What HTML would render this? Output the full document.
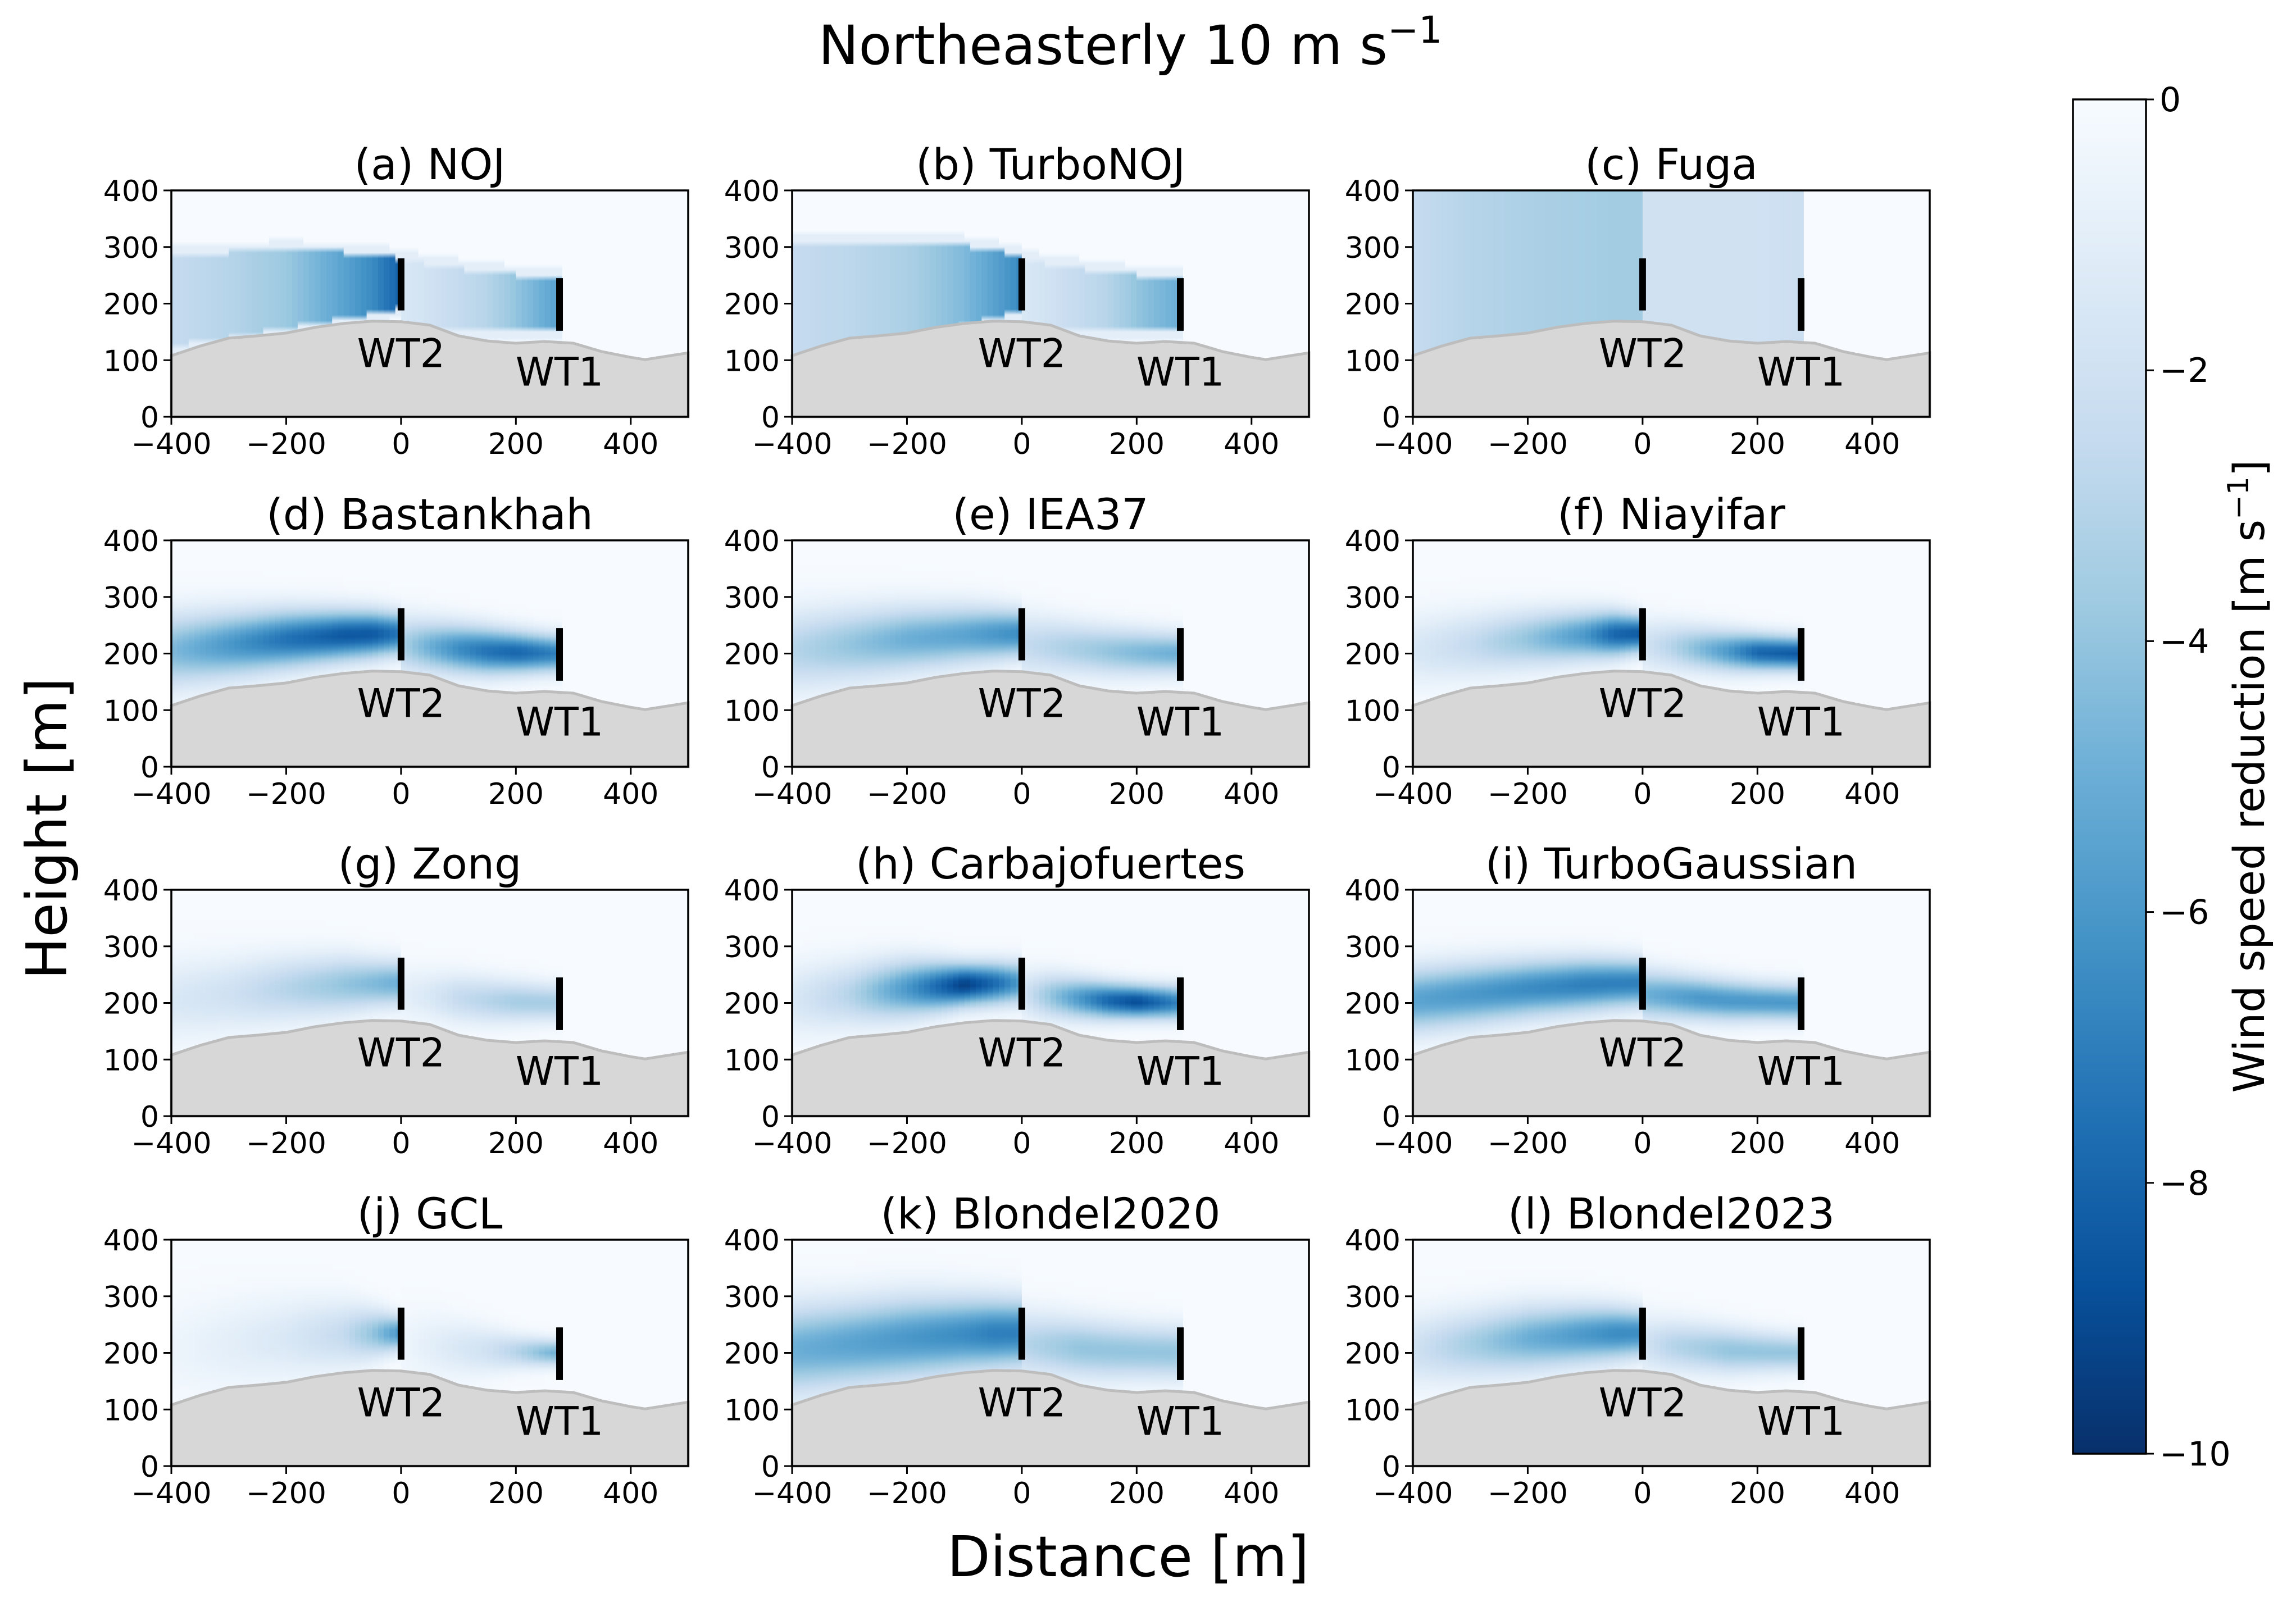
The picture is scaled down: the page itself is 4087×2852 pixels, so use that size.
<!DOCTYPE html>
<html><head><meta charset="utf-8"><style>
html,body{margin:0;padding:0;background:#fff}
svg{display:block;font-family:"DejaVu Sans","Liberation Sans",sans-serif}
</style></head><body>
<svg id="fig" width="4087" height="2852" viewBox="0 0 4087 2852" xmlns="http://www.w3.org/2000/svg">
<defs id="defs"></defs>
<rect width="4087" height="2852" fill="#fff"/>
<text x="2012" y="114" font-size="96" text-anchor="middle">Northeasterly 10 m s<tspan dy="-38" font-size="66">−1</tspan></text>
<text transform="translate(118,1475) rotate(-90)" font-size="100" text-anchor="middle">Height [m]</text>
<text x="2008" y="2806" font-size="100" text-anchor="middle">Distance [m]</text>
<g id="panels"></g>
<g id="cbar"></g>
</svg>
<script>
const NS="http://www.w3.org/2000/svg";
const modelNames=["(a) NOJ","(b) TurboNOJ","(c) Fuga","(d) Bastankhah","(e) IEA37","(f) Niayifar","(g) Zong","(h) Carbajofuertes","(i) TurboGaussian","(j) GCL","(k) Blondel2020","(l) Blondel2023"];
const modelShapes=["tophat","tophat","fuga","gauss","gauss","gauss","gauss","gauss","gauss","gauss","gauss","gauss"];
const wakeX=[-400,-300,-200,-100,-50,-5,5,50,100,150,200,270];
const wakeCenter=[205,215,225,232,234,235,215,212,208,204,202,200];
const defNOJ=[2.5,3,3.8,5.5,6.5,8,1.5,2,2.5,3,4,5.5];
const defTurboNOJ=[2.5,2.8,3.3,4.5,5.5,6.5,1.5,2,2.5,3,4,5];
const defFuga=[2.5,3,3.3,3.5,3.6,3.6,2,2,2,2,2,2.2];
const defBastankhah=[4.5,6,7.5,8.5,8.5,7.5,3.5,5,6.5,7.5,8,7];
const defIEA37=[3,4,5,5.5,6,6.5,2.5,3,3.5,4,4.5,5];
const defNiayifar=[1.5,2.5,4,6,8,8.5,2,3,4.5,6,8,8.5];
const defZong=[1.5,2,3,4,4.5,5,1,1.5,2.5,3,3.5,3.5];
const defCarbajo=[1.5,3,6,9.5,8,6,2,4,6,8,9,7];
const defTurboGauss=[5.5,6,6.5,7,7,7,5,5.5,6,6,6,6];
const defGCL=[0.5,1,1.5,2.5,4,6,0.5,1,1.5,2,3,5];
const defBlondel2020=[5,5.5,6,6.5,7,7,3,3.5,4,4,4,4];
const defBlondel2023=[2,3.5,5,6,6.5,6.5,2,3,3.5,4,4,4];
const widNOJ=[80,75,68,58,52,45,60,57,54,51,48,45];
const widTurboNOJ=[100,95,85,70,60,48,60,57,54,51,48,45];
const widFuga=[400,400,400,400,400,400,400,400,400,400,400,400];
const widBastankhah=[45,40,35,30,28,25,35,32,30,28,25,22];
const widIEA37=[50,45,40,35,32,28,38,35,32,30,28,25];
const widNiayifar=[45,40,35,30,27,22,33,30,27,25,22,20];
const widZong=[50,45,40,35,30,27,35,32,30,28,25,22];
const widCarbajo=[45,40,35,25,25,25,30,28,25,22,20,20];
const widTurboGauss=[40,38,35,32,30,28,30,28,26,25,23,22];
const widGCL=[60,55,50,40,30,20,45,40,35,28,20,15];
const widBlondel2020=[55,52,50,45,42,40,40,38,36,35,33,32];
const widBlondel2023=[45,42,40,35,32,28,35,32,30,28,25,22];
const modelDef=[defNOJ,defTurboNOJ,defFuga,defBastankhah,defIEA37,defNiayifar,defZong,defCarbajo,defTurboGauss,defGCL,defBlondel2020,defBlondel2023];
const modelWid=[widNOJ,widTurboNOJ,widFuga,widBastankhah,widIEA37,widNiayifar,widZong,widCarbajo,widTurboGauss,widGCL,widBlondel2020,widBlondel2023];
const terrainX=[-400,-350,-300,-250,-200,-150,-100,-50,0,50,100,150,200,250,300,350,400,425,450,500];
const terrainY=[108,125,139,143,148,158,165,169,168,162,143,134,130,133,130,115,105,101,105,113];
const turbineX=[0,276];
const turbineBottom=[188,152];
const turbineTop=[280,245];
const turbineLabels=["WT2","WT1"];
const labelY=[88,55];
const xTicks=[-400,-200,0,200,400];
const yTicks=[0,100,200,300,400];
const cbTicks=[0,-2,-4,-6,-8,-10];
const cbLabels=["0","−2","−4","−6","−8","−10"];

const colX=[305,1410,2515], rowY=[339,962,1584,2207], PW=920, PH=403;
const blues=["#f7fbff","#deebf7","#c6dbef","#9ecae1","#6baed6","#4292c6","#2171b5","#08519c","#08306b"];
function hex(h){return [1,3,5].map(i=>parseInt(h.substr(i,2),16));}
function cmap(t){t=Math.max(0,Math.min(1,t));const s=t*8,i=Math.min(7,Math.floor(s)),f=s-i;const a=hex(blues[i]),b=hex(blues[i+1]);return "rgb("+a.map((v,k)=>Math.round(v+(b[k]-v)*f)).join(",")+")";}
function interp(xs,ys,x){if(x<=xs[0])return ys[0];for(let i=1;i<xs.length;i++){if(x<=xs[i]){const f=(x-xs[i-1])/(xs[i]-xs[i-1]);return ys[i-1]+(ys[i]-ys[i-1])*f;}}return ys[ys.length-1];}
function el(tag,attrs,parent){const e=document.createElementNS(NS,tag);for(const k in attrs)e.setAttribute(k,attrs[k]);if(parent)parent.appendChild(e);return e;}
const defs=document.getElementById('defs');
const panels=document.getElementById('panels');
let gid=0;
modelNames.forEach((name,m)=>{
  const ox=colX[m%3], oy=rowY[Math.floor(m/3)];
  const sx=x=>ox+(x+400)/900*PW, sy=y=>oy+PH-y/400*PH;
  const g=el('g',{},panels);
  
  
  const bg=el('rect',{x:ox,y:oy,width:PW,height:PH,fill:blues[0]},g);
  
  
  const wake=el('g',{},g);
  
  
  const shape=modelShapes[m], D=modelDef[m], W=modelWid[m];
  for(let x=-400;x<280;x+=10){
    const xc=x+5;
    const d=interp(wakeX,D,xc), w=interp(wakeX,W,xc), c=shape==="fuga"?300:interp(wakeX,wakeCenter,xc);
    const id='gr'+(gid++);
    const lg=el('linearGradient',{id:id,x1:0,y1:0,x2:0,y2:1},defs);
    for(let k=0;k<=40;k++){
      const y=400-k*10;let v;
      if(shape==="gauss")v=d*Math.exp(-0.5*((y-c)/w)**2);
      else if(shape==="tophat"){const r=Math.abs(y-c);v=r<w?d:(r<w+18?Math.min(d,1):0);}
      else v=d;
      el('stop',{offset:(k/40).toFixed(3),'stop-color':cmap(v/10)},lg);
    }
    const r=el('rect',{x:sx(x).toFixed(1),y:oy,width:(PW/90+0.8).toFixed(1),height:PH,fill:'url(#'+id+')'},wake);
    
    
  }
  let pts=terrainX.map((x,i)=>sx(x).toFixed(1)+','+sy(terrainY[i]).toFixed(1)).join(' ');
  const ter=el('polygon',{points:sx(-400)+','+sy(0)+' '+pts+' '+sx(500)+','+sy(0),fill:'#d7d7d7',stroke:'#bdbdbd','stroke-width':5},g);
  
  
  turbineX.forEach((tx,i)=>{
    const ln=el('line',{x1:sx(tx),x2:sx(tx),y1:sy(turbineBottom[i]),y2:sy(turbineTop[i]),stroke:'#000','stroke-width':12},g);
    
    
    const t=el('text',{x:sx(tx),y:sy(labelY[i]),'font-size':70,'text-anchor':'middle'},g);
    t.textContent=turbineLabels[i];
    
    
  });
  const fr=el('rect',{x:ox,y:oy,width:PW,height:PH,fill:'none',stroke:'#000','stroke-width':3.5},g);
  
  
  xTicks.forEach(v=>{
    el('line',{x1:sx(v),x2:sx(v),y1:oy+PH,y2:oy+PH+14,stroke:'#000','stroke-width':3},g);
    const t=el('text',{x:sx(v),y:oy+PH+66,'font-size':52,'text-anchor':'middle'},g);
    t.textContent=(v<0?'−':'')+Math.abs(v);
    
    
  });
  yTicks.forEach(v=>{
    el('line',{x1:ox-14,x2:ox,y1:sy(v),y2:sy(v),stroke:'#000','stroke-width':3},g);
    const t=el('text',{x:ox-22,y:sy(v)+19,'font-size':52,'text-anchor':'end'},g);
    t.textContent=v;
    
    
  });
  const tt=el('text',{x:ox+PW/2,y:oy-20,'font-size':76,'text-anchor':'middle'},g);
  tt.textContent=name;
  
  
});
const cb=document.getElementById('cbar');
const cbx=3690,cbw=130,cbt=177,cbb=2588;
const cg=el('linearGradient',{id:'cbg',x1:0,y1:0,x2:0,y2:1},defs);
blues.forEach((c,i)=>el('stop',{offset:i/8,'stop-color':c},cg));
el('rect',{x:cbx,y:cbt,width:cbw,height:cbb-cbt,fill:'url(#cbg)',stroke:'#000','stroke-width':3.5},cb);
cbTicks.forEach((v,i)=>{
  const y=cbt+(-v/10)*(cbb-cbt);
  el('line',{x1:cbx+cbw,x2:cbx+cbw+14,y1:y,y2:y,stroke:'#000','stroke-width':3},cb);
  const t=el('text',{x:cbx+cbw+24,y:y+21,'font-size':60},cb);
  t.textContent=cbLabels[i];
  
  
});
const cl=el('text',{transform:'translate(4030,1382) rotate(-90)','font-size':76,'text-anchor':'middle'},cb);
cl.innerHTML='Wind speed reduction [m s<tspan dy="-28" font-size="52">−1</tspan><tspan dy="28">]</tspan>';


</script>
</body></html>
